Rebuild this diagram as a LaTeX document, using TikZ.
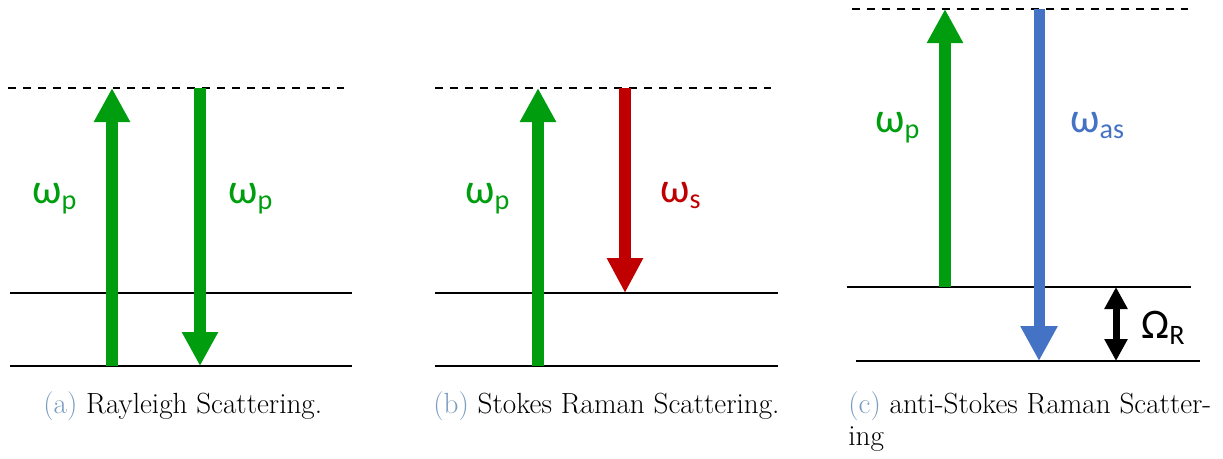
\documentclass[tikz,border=0pt]{standalone}
\usepackage{fontspec}
\usetikzlibrary{arrows.meta}
\newfontfamily\labfont{Carlito}
\definecolor{PumpGreen}{HTML}{009E0F}
\definecolor{StokesRed}{HTML}{C00000}
\definecolor{AntiBlue}{HTML}{4472C4}
\definecolor{CapBlue}{HTML}{7A9CC0}
\newcommand{\wlab}[2]{\labfont #1\raisebox{-0.3ex}{\fontsize{16}{16}\selectfont #2}}

\begin{document}
\begin{tikzpicture}[x=0.02cm, y=-0.02cm,
    level/.style={line width=1.3pt, color=black},
    virt/.style={line width=1.1pt, color=black, dash pattern=on 4.5pt off 4pt},
    garr/.style={-{Triangle[length=0.68cm, width=0.68cm]}, line width=0.24cm, color=PumpGreen},
    rarr/.style={-{Triangle[length=0.70cm, width=0.68cm]}, line width=0.24cm, color=StokesRed},
    barr/.style={-{Triangle[length=0.70cm, width=0.70cm]}, line width=0.22cm, color=AntiBlue},
    karr/.style={{Triangle[length=0.44cm, width=0.44cm]}-{Triangle[length=0.44cm, width=0.44cm]}, line width=0.14cm, color=black},
    lab/.style={anchor=base west, inner sep=0pt, font=\fontsize{24}{24}\selectfont},
    captext/.style={anchor=base west, inner sep=0pt, align=left, font=\fontsize{16.6}{18.2}\selectfont},
  ]
    \useasboundingbox (0,0) rectangle (1223,458);

    % (a) Rayleigh
    \coordinate (a2w) at (8,88);    \coordinate (a2e) at (347,88);
    \coordinate (a1w) at (10,293);  \coordinate (a1e) at (352,293);
    \coordinate (a0w) at (10,366);  \coordinate (a0e) at (352,366);
    \draw[virt] (a2w) -- (a2e);
    \draw[level] (a1w) -- (a1e);
    \draw[level] (a0w) -- (a0e);
    \coordinate (aup0) at (112,366); \coordinate (aup1) at (112,88);
    \coordinate (adn0) at (200,88);  \coordinate (adn1) at (200,366);
    \draw[garr] (aup0) -- (aup1);
    \draw[garr] (adn0) -- (adn1);
    \node[lab, text=PumpGreen] (apl) at (32,203) {\wlab{ω}{p}};
    \node[lab, text=PumpGreen] (apr) at (228,203) {\wlab{ω}{p}};
    \node[captext] (capa) at (43,413) {\textcolor{CapBlue}{(a)} Rayleigh Scattering.};

    % (b) Stokes
    \coordinate (b2w) at (435,88);  \coordinate (b2e) at (778,88);
    \coordinate (b1w) at (435,293); \coordinate (b1e) at (778,293);
    \coordinate (b0w) at (435,366); \coordinate (b0e) at (778,366);
    \draw[virt] (b2w) -- (b2e);
    \draw[level] (b1w) -- (b1e);
    \draw[level] (b0w) -- (b0e);
    \coordinate (bup0) at (538,366); \coordinate (bup1) at (538,88);
    \coordinate (bdn0) at (625,88);  \coordinate (bdn1) at (625,293);
    \draw[garr] (bup0) -- (bup1);
    \draw[rarr] (bdn0) -- (bdn1);
    \node[lab, text=PumpGreen] (bp) at (465,203) {\wlab{ω}{p}};
    \node[lab, text=StokesRed] (bs) at (660,202) {\wlab{ω}{s}};
    \node[captext] (capb) at (433,413) {\textcolor{CapBlue}{(b)} Stokes Raman Scattering.};

    % (c) anti-Stokes
    \coordinate (c2w) at (852,9);   \coordinate (c2e) at (1192,9);
    \coordinate (c1w) at (847,287); \coordinate (c1e) at (1191,287);
    \coordinate (c0w) at (856,361); \coordinate (c0e) at (1200,361);
    \draw[virt] (c2w) -- (c2e);
    \draw[level] (c1w) -- (c1e);
    \draw[level] (c0w) -- (c0e);
    \coordinate (cup0) at (945,287);  \coordinate (cup1) at (945,9);
    \coordinate (cdn0) at (1039,9);   \coordinate (cdn1) at (1039,361);
    \coordinate (cr1) at (1116,287);  \coordinate (cr0) at (1116,361);
    \draw[garr] (cup0) -- (cup1);
    \draw[barr] (cdn0) -- (cdn1);
    \draw[karr] (cr1) -- (cr0);
    \node[lab, text=PumpGreen] (cp) at (875,132) {\wlab{ω}{p}};
    \node[lab, text=AntiBlue] (cas) at (1070,132) {\wlab{ω}{as}};
    \node[lab, text=black] (crl) at (1141,338) {\wlab{Ω}{R}};
    \node[captext] (capc) at (848,445) {\textcolor{CapBlue}{(c)} anti-Stokes Raman Scatter-\\ing};
  \end{tikzpicture}
\end{document}
